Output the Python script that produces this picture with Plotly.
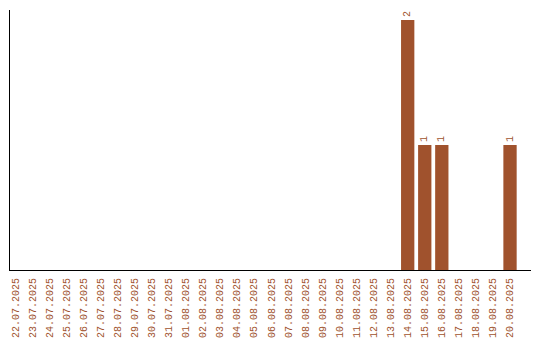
import plotly.graph_objects as go

dates = ["22.07.2025", "23.07.2025", "24.07.2025", "25.07.2025", "26.07.2025",
         "27.07.2025", "28.07.2025", "29.07.2025", "30.07.2025", "31.07.2025",
         "01.08.2025", "02.08.2025", "03.08.2025", "04.08.2025", "05.08.2025",
         "06.08.2025", "07.08.2025", "08.08.2025", "09.08.2025", "10.08.2025",
         "11.08.2025", "12.08.2025", "13.08.2025", "14.08.2025", "15.08.2025",
         "16.08.2025", "17.08.2025", "18.08.2025", "19.08.2025", "20.08.2025"]
counts = [0, 0, 0, 0, 0, 0, 0, 0, 0, 0,
          0, 0, 0, 0, 0, 0, 0, 0, 0, 0,
          0, 0, 0, 2, 1, 1, 0, 0, 0, 1]

labels = [str(c) if c > 0 else "" for c in counts]
color = "#A0522D"
font = "Liberation Mono"

fig = go.Figure(go.Bar(
    x=dates, y=counts, marker=dict(color=color, line=dict(width=0)),
    text=labels, textposition="outside", textangle=-90,
    textfont=dict(family=font, size=10, color=color),
    cliponaxis=False,
))

fig.update_layout(
    width=540, height=340,
    margin=dict(l=10, r=9, t=10, b=70),
    paper_bgcolor="white", plot_bgcolor="white",
    bargap=0.22, showlegend=False,
    xaxis=dict(type="category", range=[-0.32, 30.23], showline=True,
               linecolor="black", linewidth=1, showgrid=False,
               ticks="outside", ticklen=3, tickcolor="rgba(0,0,0,0)",
               automargin=False,
               tickangle=-90, tickfont=dict(family=font, size=10, color=color)),
    yaxis=dict(range=[0, 2.08], showline=True, linecolor="black", linewidth=1,
               showgrid=False, zeroline=False, showticklabels=False, ticks="",
               automargin=False),
)

fig.write_html("out.html")
